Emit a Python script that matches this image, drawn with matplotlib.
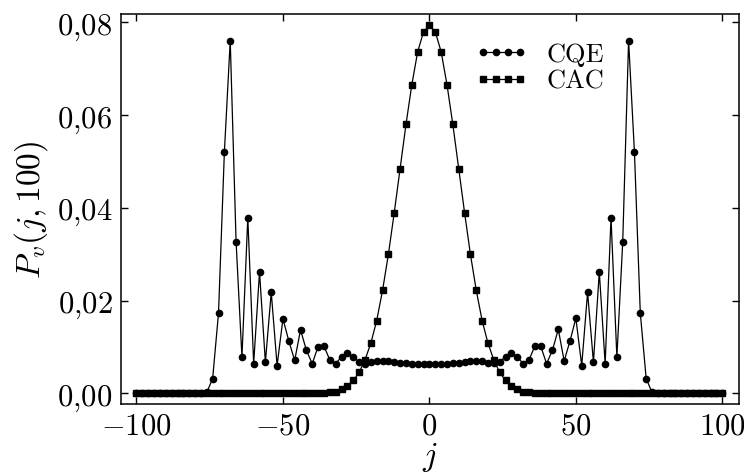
import numpy as np
import matplotlib
matplotlib.use("Agg")
import matplotlib.pyplot as plt
from matplotlib.ticker import FuncFormatter

plt.rcParams['mathtext.fontset'] = 'cm'
plt.rcParams['font.family'] = ['cmr10', 'DejaVu Serif']
plt.rcParams['axes.formatter.use_mathtext'] = True

# positions j = -100 .. 100 in steps of 2
j = np.arange(-100, 101, 2)

cqe = [0, 0, 0, 0, 0, 0, 0, 0, 0, 0, 0, 0,
       0.0002, 0.0032, 0.0173, 0.0520, 0.0761, 0.0327, 0.0078, 0.0379,
       0.0064, 0.0262, 0.0067, 0.0218, 0.0060, 0.0161, 0.0113, 0.0071,
       0.0137, 0.0093, 0.0064, 0.0101, 0.0102, 0.0072, 0.0064, 0.0079,
       0.0087, 0.0079, 0.0067, 0.0063, 0.0067, 0.0069, 0.0069, 0.0069,
       0.0067, 0.0066, 0.0065, 0.0064, 0.0063, 0.0063,
       0.0063,
       0.0063, 0.0063, 0.0064, 0.0065, 0.0066, 0.0067, 0.0069, 0.0069,
       0.0069, 0.0066, 0.0066, 0.0068, 0.0079, 0.0086, 0.0079, 0.0064,
       0.0072, 0.0102, 0.0102, 0.0064, 0.0093, 0.0138, 0.0070, 0.0113,
       0.0162, 0.0060, 0.0218, 0.0067, 0.0262, 0.0064, 0.0379, 0.0078,
       0.0327, 0.0761, 0.0520, 0.0173, 0.0032, 0.0002,
       0, 0, 0, 0, 0, 0, 0, 0, 0, 0, 0, 0]

cac = [0] * 32 + [
       0.0001, 0.0002, 0.0004, 0.0009, 0.0016, 0.0028, 0.0045, 0.0072,
       0.0108, 0.0157, 0.0222, 0.0300, 0.0390, 0.0485, 0.0580, 0.0666,
       0.0737, 0.0780,
       0.0794,
       0.0780, 0.0737, 0.0666, 0.0580, 0.0485, 0.0390, 0.0300, 0.0222,
       0.0157, 0.0108, 0.0072, 0.0045, 0.0028, 0.0016, 0.0009, 0.0004,
       0.0002, 0.0001] + [0] * 32

xticks = [-100, -50, 0, 50, 100]
yticks = [0.00, 0.02, 0.04, 0.06, 0.08]

fig = plt.figure(figsize=(7.44, 4.77), dpi=100)
ax = fig.add_axes([0.1622, 0.1509, 0.8315, 0.8183])

ax.plot(j, cqe, '-o', color='k', lw=0.9, ms=4.5, label='CQE')
ax.plot(j, cac, '-s', color='k', lw=0.9, ms=3.8, label='CAC')

ax.set_xlim(-105.4, 105.8)
ax.set_ylim(-0.0023, 0.0819)
ax.set_xticks(xticks)
ax.set_yticks(yticks)
ax.xaxis.set_major_formatter(FuncFormatter(lambda v, p: r'$%d$' % v))
ax.yaxis.set_major_formatter(FuncFormatter(lambda v, p: r'$0{,}%02d$' % round(v * 100)))
ax.tick_params(direction='in', top=True, right=True, length=5, width=1,
               labelsize=22, pad=6)
for s in ax.spines.values():
    s.set_linewidth(1.1)

ax.set_xlabel(r'$j$', fontsize=24, labelpad=0)
ax.set_ylabel(r'$P_v(j,100)$', fontsize=24, labelpad=5)

ax.legend(loc='center left', bbox_to_anchor=(0.535, 0.862), frameon=False,
          numpoints=4, handlelength=2.0, handletextpad=0.7, labelspacing=0.12,
          borderpad=0.4, prop={'family': 'cmr10', 'size': 19})

fig.savefig('out.png', dpi=100)
